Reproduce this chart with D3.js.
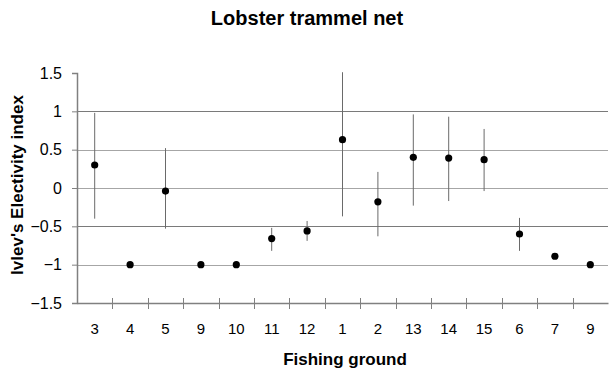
<!DOCTYPE html>
<html>
<head>
<meta charset="utf-8">
<script src="https://cdn.jsdelivr.net/npm/d3@7"></script>
<style>
  body { margin: 0; background: #fff; }
  text { font-family: Arial, "Liberation Sans", sans-serif; }
</style>
</head>
<body>
<div id="chart"></div>
<script>
// Fishing grounds in plotted order (9 appears twice)
const grounds = ["3", "4", "5", "9", "10", "11", "12", "1", "2", "13", "14", "15", "6", "7", "9"];
const electivity = [0.30, -1.00, -0.04, -1.00, -1.00, -0.66, -0.56, 0.63, -0.18, 0.40, 0.39, 0.37, -0.60, -0.89, -1.00];
const upper = [0.98, null, 0.52, null, null, -0.52, -0.43, 1.51, 0.21, 0.96, 0.93, 0.77, -0.39, null, null];
const lower = [-0.40, null, -0.53, null, null, -0.82, -0.69, -0.37, -0.63, -0.23, -0.17, -0.04, -0.82, null, null];
const yTicks = [-1.5, -1, -0.5, 0, 0.5, 1, 1.5];

const margin = { top: 73, right: 2, bottom: 68, left: 77 },
      width = 610 - margin.left - margin.right,
      height = 371 - margin.top - margin.bottom;

const data = grounds.map((g, i) => ({ key: i, label: g, v: electivity[i], hi: upper[i], lo: lower[i] }));

const svg = d3.select("#chart")
    .append("svg")
    .attr("width", 610)
    .attr("height", 371);

const g = svg.append("g")
    .attr("transform", `translate(${margin.left},${margin.top})`);

const x = d3.scaleBand()
    .domain(data.map(d => d.key))
    .range([0, width]);

const y = d3.scaleLinear()
    .domain([-1.5, 1.5])
    .range([height, 0]);

// horizontal gridlines
g.selectAll(".grid")
    .data(yTicks.filter(t => t > -1.5 && t < 1.5))
    .enter().append("line")
    .attr("x1", 0)
    .attr("x2", width)
    .attr("y1", d => Math.round(y(d)) + 0.5)
    .attr("y2", d => Math.round(y(d)) + 0.5)
    .attr("stroke", d => (d === 1 || d === -0.5) ? "#7a7a7a" : "#a6a6a6")
    .attr("stroke-width", 1);

// y axis
const yAxis = g.append("g")
    .call(d3.axisLeft(y).tickValues(yTicks).tickSize(5).tickPadding(10).tickFormat(d3.format("")));
yAxis.select(".domain").attr("stroke", "#808080").attr("stroke-width", 1.5);
yAxis.selectAll(".tick line").attr("stroke", "#808080");
yAxis.selectAll("text").attr("font-size", 16).attr("fill", "#000")
    .style("font-family", "Arial, 'Liberation Sans', sans-serif");

// x axis
const xAxis = g.append("g")
    .attr("transform", `translate(0,${height})`)
    .call(d3.axisBottom(x).tickSize(0).tickPadding(20).tickFormat(i => grounds[i]));
xAxis.select(".domain").attr("stroke", "#808080").attr("stroke-width", 1.5);
xAxis.selectAll("text").attr("font-size", 15).attr("fill", "#000")
    .style("font-family", "Arial, 'Liberation Sans', sans-serif");

// category separator ticks crossing the x axis
g.selectAll(".sep")
    .data(data.slice(1))
    .enter().append("line")
    .attr("x1", d => Math.round(x(d.key)) + 0.5)
    .attr("x2", d => Math.round(x(d.key)) + 0.5)
    .attr("y1", height - 5)
    .attr("y2", height + 6)
    .attr("stroke", "#808080");

// error bars
g.selectAll(".err")
    .data(data.filter(d => d.hi !== null))
    .enter().append("line")
    .attr("x1", d => x(d.key) + x.bandwidth() / 2)
    .attr("x2", d => x(d.key) + x.bandwidth() / 2)
    .attr("y1", d => y(d.hi))
    .attr("y2", d => y(d.lo))
    .attr("stroke", "#6a6a6a")
    .attr("stroke-width", 1);

// points
g.selectAll(".dot")
    .data(data)
    .enter().append("circle")
    .attr("cx", d => x(d.key) + x.bandwidth() / 2)
    .attr("cy", d => y(d.v))
    .attr("r", 3.6)
    .style("fill", "#000");

// titles
svg.append("text")
    .attr("x", 307)
    .attr("y", 25)
    .attr("text-anchor", "middle")
    .attr("font-size", 20)
    .attr("font-weight", "bold")
    .text("Lobster trammel net");

svg.append("text")
    .attr("x", 345)
    .attr("y", 365)
    .attr("text-anchor", "middle")
    .attr("font-size", 17)
    .attr("font-weight", "bold")
    .text("Fishing ground");

svg.append("text")
    .attr("transform", `translate(23,185) rotate(-90)`)
    .attr("text-anchor", "middle")
    .attr("font-size", 17)
    .attr("font-weight", "bold")
    .text("Ivlev's Electivity index");
</script>
</body>
</html>
